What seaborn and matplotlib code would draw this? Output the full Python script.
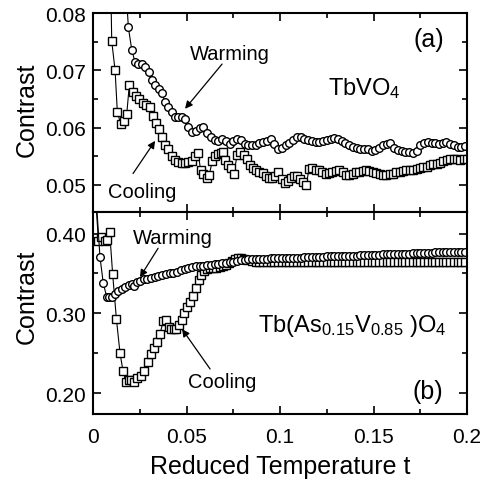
import matplotlib
matplotlib.use('Agg')
import matplotlib.pyplot as plt
import seaborn as sns
from matplotlib.ticker import MultipleLocator, FormatStrFormatter

# reduced temperature grid shared by the dense parts of the curves
t_grid = [
    0.029, 0.031, 0.033, 0.035, 0.037, 0.039, 0.041, 0.043, 0.045, 0.047,
    0.049, 0.051, 0.053, 0.055, 0.057, 0.059, 0.061, 0.063, 0.065, 0.067,
    0.069, 0.071, 0.073, 0.075, 0.077, 0.079, 0.081, 0.083, 0.085, 0.087,
    0.089, 0.091, 0.093, 0.095, 0.097, 0.099, 0.101, 0.103, 0.105, 0.107,
    0.109, 0.111, 0.113, 0.115, 0.117, 0.119, 0.121, 0.123, 0.125, 0.127,
    0.129, 0.131, 0.133, 0.135, 0.137, 0.139, 0.141, 0.143, 0.145, 0.147,
    0.149, 0.151, 0.153, 0.155, 0.157, 0.159, 0.161, 0.163, 0.165, 0.167,
    0.169, 0.171, 0.173, 0.175, 0.177, 0.179, 0.181, 0.183, 0.185, 0.187,
    0.189, 0.191, 0.193, 0.195, 0.197, 0.199,
]

# (a) TbVO4, cooling (squares)
tbvo_cool_t = [
    0.0095, 0.0100, 0.0118, 0.0130, 0.0148, 0.0166, 0.0180, 0.0194, 0.0212, 0.0230,
    0.0248, 0.0266, 0.0284, 0.0302, 0.0320, 0.0338, 0.0352, 0.0367, 0.0385, 0.0402,
    0.0420, 0.0438, 0.0456, 0.0474, 0.0492, 0.0510, 0.0527, 0.0545, 0.0563, 0.0575,
    0.0590, 0.0608, 0.0622, 0.0637, 0.0652, 0.0667, 0.0682, 0.0697, 0.0708, 0.0724,
    0.0740, 0.0754, 0.0770, 0.0788, 0.0805, 0.0822, 0.0838, 0.0855, 0.0872, 0.0890,
    0.0907, 0.0924, 0.0941, 0.0958, 0.0975, 0.0991, 0.1008, 0.1025, 0.1042, 0.1058,
    0.1075, 0.1092, 0.1109, 0.1125, 0.1140, 0.1155, 0.1172, 0.1190, 0.1208, 0.1226,
    0.1244, 0.1262, 0.1280, 0.1298, 0.1316, 0.1334, 0.1352, 0.1370, 0.1388, 0.1406,
    0.1424, 0.1442, 0.1460, 0.1478, 0.1496, 0.1514, 0.1532, 0.1550, 0.1568, 0.1586,
    0.1604, 0.1622, 0.1640, 0.1658, 0.1676, 0.1694, 0.1712, 0.1730, 0.1748, 0.1766,
    0.1784, 0.1802, 0.1820, 0.1838, 0.1856, 0.1874, 0.1892, 0.1910, 0.1928, 0.1946,
    0.1964, 0.1982, 0.2000,
]
tbvo_cool = [
    0.0850, 0.0751, 0.0700, 0.0627, 0.0607, 0.0611, 0.0623, 0.0674, 0.0662, 0.0656,
    0.0650, 0.0643, 0.0640, 0.0636, 0.0621, 0.0608, 0.0597, 0.0584, 0.0569, 0.0562,
    0.0550, 0.0543, 0.0540, 0.0539, 0.0539, 0.0540, 0.0542, 0.0550, 0.0555, 0.0526,
    0.0520, 0.0512, 0.0518, 0.0541, 0.0550, 0.0554, 0.0555, 0.0558, 0.0543, 0.0534,
    0.0529, 0.0520, 0.0552, 0.0557, 0.0552, 0.0546, 0.0535, 0.0529, 0.0526, 0.0523,
    0.0521, 0.0516, 0.0512, 0.0512, 0.0515, 0.0523, 0.0511, 0.0503, 0.0507, 0.0512,
    0.0515, 0.0516, 0.0510, 0.0505, 0.0500, 0.0528, 0.0529, 0.0527, 0.0526, 0.0522,
    0.0520, 0.0521, 0.0523, 0.0524, 0.0526, 0.0522, 0.0517, 0.0518, 0.0520, 0.0522,
    0.0523, 0.0525, 0.0526, 0.0524, 0.0523, 0.0521, 0.0520, 0.0518, 0.0517, 0.0519,
    0.0520, 0.0522, 0.0523, 0.0525, 0.0526, 0.0526, 0.0526, 0.0528, 0.0529, 0.0531,
    0.0532, 0.0535, 0.0537, 0.0537, 0.0538, 0.0541, 0.0543, 0.0545, 0.0546, 0.0545,
    0.0543, 0.0545, 0.0546,
]

# (a) TbVO4, warming (circles)
tbvo_warm_t = [
    0.0175, 0.0189, 0.0207, 0.0225, 0.0243, 0.0261, 0.0279, 0.0297, 0.0315, 0.0333,
    0.0351, 0.0369, 0.0385, 0.0403, 0.0421, 0.0439, 0.0456, 0.0474, 0.0492,
] + t_grid[11:]
tbvo_warm = [
    0.0850, 0.0775, 0.0736, 0.0714, 0.0711, 0.0711, 0.0706, 0.0697, 0.0684, 0.0675,
    0.0668, 0.0660, 0.0645, 0.0636, 0.0627, 0.0619, 0.0618, 0.0619, 0.0615,
    0.0602, 0.0593, 0.0595, 0.0599, 0.0601, 0.0591, 0.0584, 0.0579, 0.0576, 0.0581,
    0.0576, 0.0572, 0.0577, 0.0581, 0.0578, 0.0572, 0.0569, 0.0569, 0.0570, 0.0573,
    0.0575, 0.0577, 0.0581, 0.0571, 0.0563, 0.0565, 0.0569, 0.0574, 0.0578, 0.0583,
    0.0583, 0.0580, 0.0578, 0.0576, 0.0575, 0.0575, 0.0576, 0.0578, 0.0580, 0.0582,
    0.0580, 0.0576, 0.0573, 0.0570, 0.0566, 0.0564, 0.0563, 0.0563, 0.0562, 0.0560,
    0.0561, 0.0565, 0.0569, 0.0572, 0.0574, 0.0565, 0.0561, 0.0559, 0.0558, 0.0557,
    0.0555, 0.0559, 0.0569, 0.0574, 0.0575, 0.0574, 0.0574, 0.0572, 0.0573, 0.0575,
    0.0572, 0.0569, 0.0567, 0.0566, 0.0568,
]

# (b) Tb(As0.15V0.85)O4, cooling (squares)
tbas_cool_t = [
    0.0015, 0.0029, 0.0045, 0.0062, 0.0076, 0.0089, 0.0105, 0.0125, 0.0144, 0.0160,
    0.0176, 0.0190, 0.0205, 0.0220, 0.0237, 0.0255, 0.0275, 0.0295, 0.0310, 0.0326,
    0.0342, 0.0358, 0.0376, 0.0390, 0.0404, 0.0418, 0.0432, 0.0446, 0.0460, 0.0474,
    0.0488, 0.0502, 0.0518, 0.0534, 0.0550, 0.0564, 0.0578, 0.0592, 0.0608, 0.0625,
    0.0643, 0.0660, 0.0678, 0.0695, 0.0712, 0.0728, 0.0744, 0.0760, 0.0776, 0.0792,
    0.0808, 0.0825,
] + t_grid[28:]
tbas_cool = [
    0.4400, 0.3910, 0.3960, 0.3910, 0.3920, 0.4020, 0.3490, 0.2930, 0.2510, 0.2280,
    0.2140, 0.2160, 0.2170, 0.2140, 0.2190, 0.2220, 0.2280, 0.2390, 0.2490, 0.2570,
    0.2640, 0.2740, 0.2910, 0.2915, 0.2835, 0.2800, 0.2800, 0.2800, 0.2860, 0.2920,
    0.3010, 0.3075, 0.3140, 0.3220, 0.3320, 0.3420, 0.3480, 0.3530, 0.3560, 0.3570,
    0.3575, 0.3575, 0.3580, 0.3590, 0.3605, 0.3630, 0.3660, 0.3685, 0.3700, 0.3700,
    0.3685, 0.3670,
    0.3655, 0.3650, 0.3645, 0.3645, 0.3640, 0.3640, 0.3645, 0.3645, 0.3640, 0.3640,
    0.3640, 0.3645, 0.3645, 0.3640, 0.3640, 0.3640, 0.3640, 0.3645, 0.3645, 0.3640,
    0.3640, 0.3640, 0.3640, 0.3640, 0.3645, 0.3645, 0.3640, 0.3640, 0.3640, 0.3640,
    0.3640, 0.3645, 0.3645, 0.3645, 0.3640, 0.3640, 0.3640, 0.3645, 0.3645, 0.3645,
    0.3640, 0.3640, 0.3640, 0.3645, 0.3645, 0.3645, 0.3645, 0.3645, 0.3650, 0.3650,
    0.3645, 0.3645, 0.3650, 0.3650, 0.3650, 0.3650, 0.3650, 0.3650,
]

# (b) Tb(As0.15V0.85)O4, warming (circles)
tbas_warm_t = [
    0.0018, 0.0037, 0.0055, 0.0073, 0.0087, 0.0100, 0.0118, 0.0136, 0.0154, 0.0172,
    0.0190, 0.0206, 0.0220, 0.0235, 0.0252, 0.0270,
] + t_grid
tbas_warm = [
    0.4400, 0.3710, 0.3375, 0.3210, 0.3200, 0.3210, 0.3240, 0.3280, 0.3310, 0.3325,
    0.3354, 0.3366, 0.3345, 0.3390, 0.3408, 0.3430,
    0.3435, 0.3440, 0.3455, 0.3465, 0.3480, 0.3490, 0.3500, 0.3505, 0.3520, 0.3540,
    0.3560, 0.3570, 0.3580, 0.3590, 0.3595, 0.3600, 0.3605, 0.3610, 0.3615, 0.3620,
    0.3630, 0.3635, 0.3640, 0.3650, 0.3660, 0.3670, 0.3675, 0.3680, 0.3680, 0.3680,
    0.3685, 0.3685, 0.3685, 0.3690, 0.3690, 0.3690, 0.3695, 0.3695, 0.3700, 0.3700,
    0.3700, 0.3700, 0.3705, 0.3705, 0.3705, 0.3710, 0.3710, 0.3710, 0.3715, 0.3715,
    0.3715, 0.3720, 0.3720, 0.3720, 0.3725, 0.3725, 0.3725, 0.3730, 0.3730, 0.3730,
    0.3735, 0.3735, 0.3735, 0.3740, 0.3740, 0.3745, 0.3745, 0.3745, 0.3750, 0.3750,
    0.3750, 0.3755, 0.3755, 0.3755, 0.3760, 0.3760, 0.3760, 0.3765, 0.3765, 0.3765,
    0.3770, 0.3770, 0.3770, 0.3775, 0.3775, 0.3775,
]

x_ticks = [0, 0.05, 0.1, 0.15, 0.2]
x_tick_labels = ['0', '0.05', '0.1', '0.15', '0.2']

sns.set_theme(style='ticks')
plt.rcParams['font.family'] = ['Liberation Sans', 'DejaVu Sans']
plt.rcParams['text.color'] = 'black'
plt.rcParams['axes.labelcolor'] = 'black'
plt.rcParams['mathtext.fontset'] = 'custom'
plt.rcParams['mathtext.rm'] = 'Liberation Sans'
plt.rcParams['mathtext.it'] = 'Liberation Sans:italic'
plt.rcParams['mathtext.bf'] = 'Liberation Sans:bold'

fig = plt.figure(figsize=(4.82, 4.85), dpi=100)
ax_a = fig.add_axes([0.193, 0.561, 0.776, 0.410])
ax_b = fig.add_axes([0.193, 0.1443, 0.776, 0.4165])


def draw_series(ax, t, y, marker):
    sns.lineplot(x=t, y=y, ax=ax, sort=False, estimator=None, color='black',
                 lw=0.8, marker=marker, markersize=5.5, markerfacecolor='white',
                 markeredgecolor='black', markeredgewidth=1.0)


draw_series(ax_a, tbvo_cool_t, tbvo_cool, 's')
draw_series(ax_a, tbvo_warm_t, tbvo_warm, 'o')
draw_series(ax_b, tbas_cool_t, tbas_cool, 's')
draw_series(ax_b, tbas_warm_t, tbas_warm, 'o')

for ax in (ax_a, ax_b):
    ax.set_xlim(0, 0.2)
    ax.set_xticks(x_ticks)
    ax.xaxis.set_minor_locator(MultipleLocator(0.025))
    ax.tick_params(which='both', direction='in', top=True, right=True,
                   width=1.2, colors='black', labelsize=15, pad=5)
    ax.tick_params(which='major', length=6)
    ax.tick_params(which='minor', length=3.5)
    for sp in ax.spines.values():
        sp.set_linewidth(1.5)
        sp.set_color('black')
    ax.set_ylabel('Contrast', fontsize=18, color='black')

ax_a.set_ylim(0.0453, 0.08)
ax_a.yaxis.set_major_locator(MultipleLocator(0.01))
ax_a.yaxis.set_minor_locator(MultipleLocator(0.005))
ax_a.yaxis.set_major_formatter(FormatStrFormatter('%.2f'))
ax_a.tick_params(labelbottom=False)
ax_a.set_xlabel('')
ax_a.yaxis.set_label_coords(-0.145, 0.518)

ax_b.set_ylim(0.174, 0.427)
ax_b.yaxis.set_major_locator(MultipleLocator(0.1))
ax_b.yaxis.set_minor_locator(MultipleLocator(0.05))
ax_b.yaxis.set_major_formatter(FormatStrFormatter('%.2f'))
ax_b.set_xticklabels(x_tick_labels)
ax_b.tick_params(axis='x', pad=9)
ax_b.set_xlabel('Reduced Temperature t', fontsize=18, labelpad=6, color='black')
ax_b.yaxis.set_label_coords(-0.145, 0.587)

arrow = dict(arrowstyle='-|>', color='black', lw=0.9, mutation_scale=11,
             shrinkA=0, shrinkB=0)

# panel (a) labels
ax_a.text(0.0733, 0.0729, 'Warming', fontsize=14.5, ha='center', va='center')
ax_a.annotate('', xy=(0.0492, 0.0633), xytext=(0.069, 0.0711), arrowprops=arrow)
ax_a.text(0.0265, 0.0489, 'Cooling', fontsize=14.5, ha='center', va='center')
ax_a.annotate('', xy=(0.0332, 0.0577), xytext=(0.0214, 0.0520), arrowprops=arrow)
ax_a.text(0.1257, 0.0659, r'TbVO$_\mathregular{4}$', fontsize=17, ha='left', va='baseline')
ax_a.text(0.1797, 0.0755, '(a)', fontsize=18, ha='center', va='center')

# panel (b) labels
ax_b.text(0.0428, 0.388, 'Warming', fontsize=14.5, ha='center', va='baseline')
ax_b.annotate('', xy=(0.0251, 0.3454), xytext=(0.0348, 0.3816), arrowprops=arrow)
ax_b.text(0.0882, 0.2783,
          r'Tb(As$_\mathregular{0.15}$V$_\mathregular{0.85}$ )O$_\mathregular{4}$',
          fontsize=17, ha='left', va='baseline')
ax_b.text(0.0508, 0.2075, 'Cooling', fontsize=14.5, ha='left', va='baseline')
ax_b.annotate('', xy=(0.0476, 0.2804), xytext=(0.0626, 0.2304), arrowprops=arrow)
ax_b.text(0.1789, 0.2022, '(b)', fontsize=18, ha='center', va='center')

fig.savefig('out.png', dpi=100)
